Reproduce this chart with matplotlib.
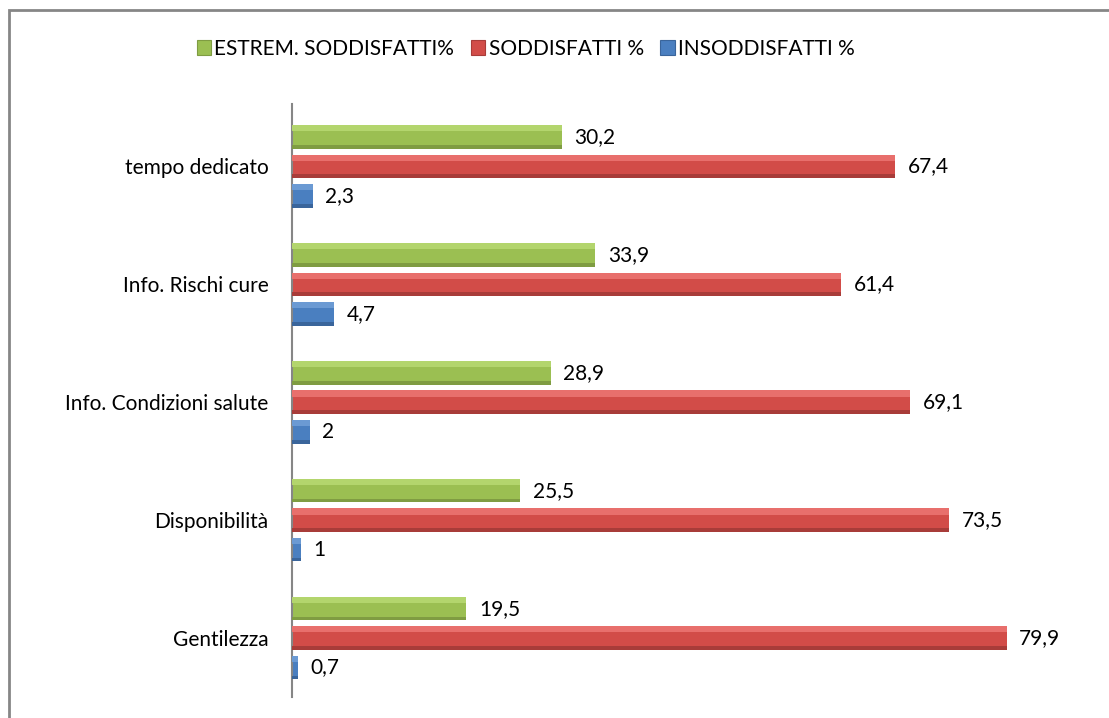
import matplotlib.pyplot as plt
import matplotlib.patches as mpatches
import numpy as np

plt.rcParams['font.family'] = ['Lato', 'DejaVu Sans']

categories = ['tempo dedicato', 'Info. Rischi cure', 'Info. Condizioni salute',
              'Disponibilità', 'Gentilezza']
series_names = ['ESTREM. SODDISFATTI%', 'SODDISFATTI %', 'INSODDISFATTI %']
estrem = [30.2, 33.9, 28.9, 25.5, 19.5]
soddisfatti = [67.4, 61.4, 69.1, 73.5, 79.9]
insoddisfatti = [2.3, 4.7, 2.0, 1.0, 0.7]

# base, light top, dark bottom (fake excel bevel)
colors = [('#9bbf52', '#b3d56d', '#7f9c42'),
          ('#d24c48', '#e86f6c', '#a83c39'),
          ('#4a7fc0', '#6b9ad3', '#3a659b')]

fig = plt.figure(figsize=(11.09, 7.18), dpi=100)
ax = fig.add_axes([0.2633, 0.0292, 0.7259, 0.826])

y = np.arange(len(categories))
h = 0.2
offs = [-0.25, 0.0, 0.25]
data = [estrem, soddisfatti, insoddisfatti]

for vals, off, (c, cl, cd), name in zip(data, offs, colors, series_names):
    yy = y + off
    ax.barh(yy, vals, height=h, color=c, edgecolor='none', label=name, zorder=2)
    ax.barh(yy - h * 0.37, vals, height=h * 0.26, color=cl, edgecolor='none', zorder=3)
    ax.barh(yy + h * 0.42, vals, height=h * 0.16, color=cd, edgecolor='none', zorder=3)
    for v, yv in zip(vals, yy):
        txt = ('%g' % v).replace('.', ',')
        ax.text(v + 1.4, yv, txt, va='center', ha='left', fontsize=15, color='black')

ax.set_xlim(0, 90)
ax.set_ylim(len(categories) - 0.5, -0.53)
ax.set_yticks(y)
ax.set_yticklabels(categories, fontsize=15)
ax.tick_params(axis='y', length=0, pad=17)
ax.set_xticks([])
for s in ['top', 'right', 'bottom']:
    ax.spines[s].set_visible(False)
ax.spines['left'].set_color('#868686')
ax.spines['left'].set_linewidth(1.5)

handles = [mpatches.Patch(facecolor=c[0], edgecolor=c[2], linewidth=0.8) for c in colors]
fig.legend(handles, series_names, loc='center', bbox_to_anchor=(0.474, 0.932), ncol=3,
           frameon=False, fontsize=15, handlelength=0.7, handleheight=0.7,
           handletextpad=0.15, columnspacing=0.8)

# chart frame (only left and top visible in the picture)
frame = mpatches.Rectangle((9 / 1109, -0.1), 1.2, 1 - 10.5 / 718 + 0.1,
                           transform=fig.transFigure, fill=False,
                           edgecolor='#868686', linewidth=2, clip_on=False)
fig.patches.append(frame)

fig.savefig('out.png', dpi=100)
